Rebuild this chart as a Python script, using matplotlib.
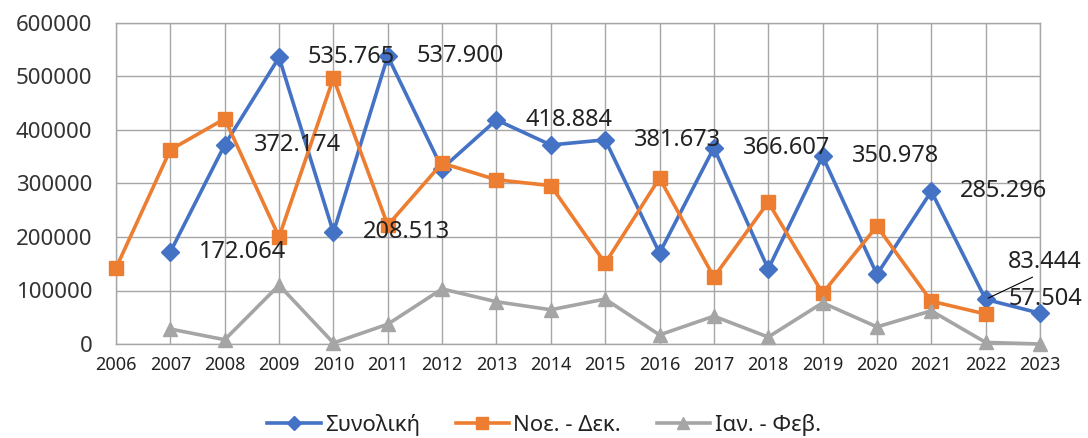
import matplotlib
matplotlib.use("Agg")
import matplotlib.pyplot as plt
import numpy as np

# ---------------------------------------------------------------------------
# data
# ---------------------------------------------------------------------------
YEARS = list(range(2006, 2024))

TOTAL = [None, 172064, 372174, 535765, 208513, 537900, 328000, 418884, 372000,
         381673, 170000, 366607, 140000, 350978, 130000, 285296, 83444, 57504]
NOV_DEC = [142000, 363000, 421000, 200000, 497000, 222000, 338000, 307000, 296000,
           151000, 310000, 125000, 265000, 95000, 220000, 80000, 56000, None]
JAN_FEB = [None, 28000, 8000, 110000, 2000, 37000, 103000, 79000, 64000,
           84000, 17000, 52000, 13000, 77000, 32000, 62000, 3000, 0]

SERIES_NAMES = ["Συνολική", "Νοε. - Δεκ.", "Ιαν. - Φεβ."]
LABELED_YEARS = [2007, 2008, 2009, 2010, 2011, 2013, 2015, 2017, 2019, 2021, 2022, 2023]

BLUE = "#4472C4"
ORANGE = "#ED7D31"
GRAY = "#A5A5A5"
GRID = "#A6A6A6"

plt.rcParams["font.family"] = ["Noto Sans", "DejaVu Sans"]


def to_arr(vals):
    return np.array([np.nan if v is None else v for v in vals], dtype=float)


def fmt(v):
    return "{:,}".format(int(v)).replace(",", ".")


fig = plt.figure(figsize=(10.88, 4.38), dpi=100)
ax = fig.add_axes([116 / 1088, 1 - 344 / 438, (1040 - 116) / 1088, (344 - 23) / 438])

x = np.arange(len(YEARS))
styles = [
    (TOTAL, BLUE, "D", 9.5),
    (NOV_DEC, ORANGE, "s", 10.5),
    (JAN_FEB, GRAY, "^", 10.5),
]
for (vals, color, marker, ms), name in zip(styles, SERIES_NAMES):
    ax.plot(x, to_arr(vals), color=color, lw=2.6, marker=marker, ms=ms,
            mec=color, mfc=color, label=name, clip_on=False, zorder=3)

# data labels on the total series (placed to the right of the point)
total = to_arr(TOTAL)
for yr in LABELED_YEARS:
    i = YEARS.index(yr)
    v = total[i]
    if yr == 2022:
        ax.annotate(fmt(v), xy=(i, v), xytext=(59, 37), textcoords="offset pixels",
                    ha="center", va="center", fontsize=17, color="#222222", zorder=5,
                    arrowprops=dict(arrowstyle="-", color="black", lw=0.8,
                                    shrinkA=0, shrinkB=2, relpos=(0.45, 0.05)))
    elif yr == 2023:
        ax.annotate(fmt(v), xy=(i, v), xytext=(5, 14), textcoords="offset pixels",
                    ha="center", va="center", fontsize=17, color="#222222", zorder=5)
    else:
        ax.annotate(fmt(v), xy=(i, v), xytext=(29, 0), textcoords="offset pixels",
                    ha="left", va="center", fontsize=17, color="#222222", zorder=5)

ax.set_xlim(0, len(YEARS) - 1)
ax.set_ylim(0, 600000)
ax.set_yticks(np.arange(0, 600001, 100000))
ax.set_yticklabels([str(t) for t in range(0, 600001, 100000)])
ax.set_xticks(x)
ax.set_xticklabels([str(y) for y in YEARS])
ax.tick_params(axis="y", length=0, pad=17, labelsize=16, labelcolor="#333333")
ax.tick_params(axis="x", length=0, pad=9, labelsize=13, labelcolor="#222222")
ax.grid(True, color=GRID, lw=1.0)
ax.set_axisbelow(True)
for sp in ax.spines.values():
    sp.set_color(GRID)
    sp.set_linewidth(1.0)

fig.legend(loc="center", bbox_to_anchor=(0.5, 1 - 425 / 438), ncol=3, frameon=False,
           fontsize=16, handlelength=2.4, handletextpad=0.2, columnspacing=1.6,
           markerscale=0.8, labelcolor="#222222")

fig.savefig("out.png", dpi=100)
